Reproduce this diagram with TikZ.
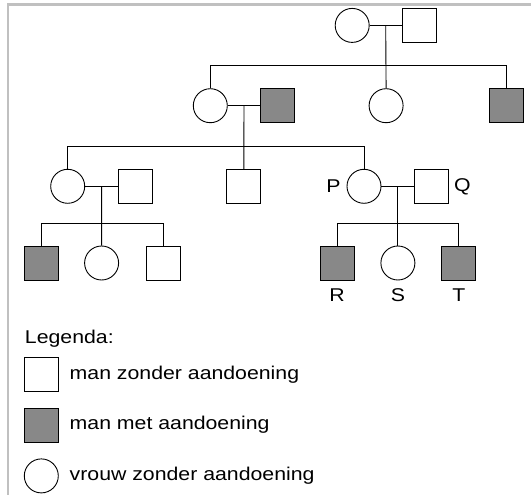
\documentclass[tikz,border=0pt]{standalone}
\usepackage{fontspec}
\setmainfont[FakeStretch=1.15]{Liberation Sans}
\usepackage{tikz}
\usetikzlibrary{calc,positioning}

\definecolor{ziek}{RGB}{136,136,136}
\definecolor{kader}{RGB}{192,192,192}

\begin{document}
\begin{tikzpicture}[x=1pt,y=-1pt,line width=0.9pt,
  man/.style={draw,rectangle,minimum size=34pt,inner sep=0pt},
  manziek/.style={man,fill=ziek},
  vrouw/.style={draw,circle,minimum size=34pt,inner sep=0pt},
  lbl/.style={inner sep=0pt,font=\fontsize{18.5}{22}\selectfont}]
\useasboundingbox (0,0) rectangle (531,495);
\draw[kader,line width=2.7pt] (8,495) -- (8,4.7) -- (531,4.7);

\node[vrouw] (a1) at (352.2,25.4) {};
\node[man] (a2) at (419.2,25.4) {};

\node[vrouw] (b1) at (210.3,105.7) {};
\node[manziek] (b2) at (277.7,105.7) {};
\node[vrouw] (b3) at (386.1,105.7) {};
\node[manziek] (b4) at (506.3,105.7) {};

\node[vrouw] (c1) at (67.7,186.3) {};
\node[man] (c2) at (135.5,186.3) {};
\node[man] (c3) at (243.8,186.3) {};
\node[vrouw] (p) at (364,186.3) {};
\node[man] (q) at (431.8,186.3) {};

\node[manziek] (d1) at (41.3,263) {};
\node[vrouw] (d2) at (101.6,263) {};
\node[man] (d3) at (163,263) {};
\node[manziek] (r) at (337,263) {};
\node[vrouw] (s) at (397.9,263) {};
\node[manziek] (t) at (458.9,263) {};

\node[lbl,left=5.5pt of p] {P};
\node[lbl,right=4.5pt of q] {Q};
\node[lbl,below=7.5pt of r] {R};
\node[lbl,below=7.5pt of s] {S};
\node[lbl,below=7.5pt of t] {T};

% huwelijken en kinderen
\draw (a1) -- (a2);
\coordinate (ka) at ($(a1.east)!0.5!(a2.west)$);
\draw (ka) -- (b3.north);
\draw (b1.north) |- (ka |- 0,65.4) -| (b4.north);

\draw (b1) -- (b2);
\coordinate (kb) at ($(b1.east)!0.5!(b2.west)$);
\draw (kb) -- (c3.north);
\draw (c1.north) |- (kb |- 0,146.3) -| (p.north);

\draw (c1) -- (c2);
\coordinate (kc) at ($(c1.east)!0.5!(c2.west)$);
\draw (kc) -- (d2.north);
\draw (d1.north) |- (kc |- 0,223.3) -| (d3.north);

\draw (p) -- (q);
\coordinate (kp) at ($(p.east)!0.5!(q.west)$);
\draw (kp) -- (s.north);
\draw (r.north) |- (kp |- 0,223.3) -| (t.north);

% legenda
\node[lbl,anchor=base west] (leg) at (24.5,343.3) {Legenda:};
\node[man] (l1) at (41.3,374.3) {};
\node[manziek] (l2) at (41.3,425) {};
\node[vrouw] (l3) at (41.3,475.9) {};
\node[lbl,right=10.5pt of l1] {man zonder aandoening};
\node[lbl,right=10.5pt of l2] {man met aandoening};
\node[lbl,right=10.5pt of l3] {vrouw zonder aandoening};

\end{tikzpicture}
\end{document}
